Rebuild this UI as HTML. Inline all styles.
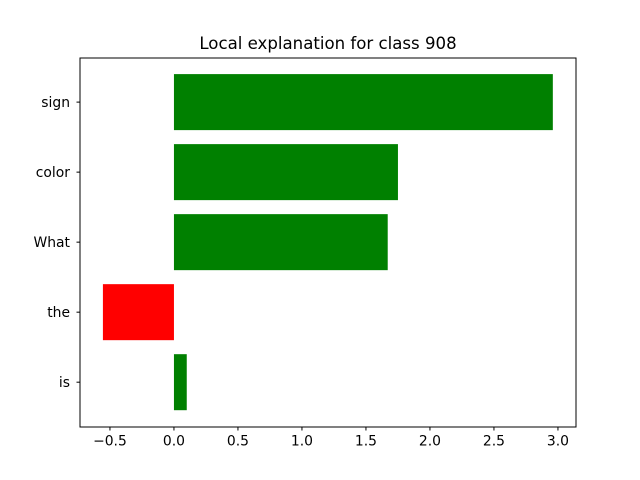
<!DOCTYPE html>
<html><head><meta charset="utf-8"><style>
body{margin:0;background:#fff;}
svg{display:block;font-family:"DejaVu Sans","Liberation Sans",sans-serif;}
</style></head><body>
<svg id="chart" width="640" height="480">
<rect width="640" height="480" fill="#fff"/>
<text x="328" y="49" text-anchor="middle" font-size="16.6">Local explanation for class 908</text>
<g id="plot"></g>
<rect x="80" y="58" width="496" height="369" fill="none" stroke="#000" stroke-width="1"/>
</svg>
<script>
const categories = ["is", "the", "What", "color", "sign"];
const values = [0.10, -0.555, 1.67, 1.75, 2.96];
const xTicks = [-0.5, 0.0, 0.5, 1.0, 1.5, 2.0, 2.5, 3.0];
const xTickLabels = ["−0.5", "0.0", "0.5", "1.0", "1.5", "2.0", "2.5", "3.0"];

const X0 = 80, X1 = 576, Y0 = 58, Y1 = 427;
const xMin = -0.734, xMax = 3.141;
const yMin = -0.64, yMax = 4.63;
function xs(v){ return X0 + (v - xMin) / (xMax - xMin) * (X1 - X0); }
function ys(v){ return Y1 - (v - yMin) / (yMax - yMin) * (Y1 - Y0); }
const NS = "http://www.w3.org/2000/svg";
const g = document.getElementById("plot");
function mk(tag, attrs){ const e = document.createElementNS(NS, tag); for (const k in attrs) e.setAttribute(k, attrs[k]); g.appendChild(e); return e; }

categories.forEach((c, i) => {
  const v = values[i];
  const xa = xs(Math.min(0, v)), xb = xs(Math.max(0, v));
  const yt = ys(i + 0.4), yb = ys(i - 0.4);
  const r = mk("rect", {x: xa, y: yt, width: xb - xa, height: yb - yt, fill: v >= 0 ? "#008000" : "#ff0000"});
  
  
  const yc = ys(i);
  const t = mk("line", {x1: X0 - 3.5, x2: X0, y1: yc, y2: yc, stroke: "#000"});
  
  
  const l = mk("text", {x: X0 - 10, y: yc + 5, "text-anchor": "end", "font-size": "13.9"});
  l.textContent = c;
  
  
});
xTicks.forEach((v, i) => {
  const x = xs(v);
  const t = mk("line", {x1: x, x2: x, y1: Y1, y2: Y1 + 3.5, stroke: "#000"});
  
  
  const l = mk("text", {x: x, y: Y1 + 18.5, "text-anchor": "middle", "font-size": "13.9"});
  l.textContent = xTickLabels[i];
  
  
});
</script>
</body></html>
